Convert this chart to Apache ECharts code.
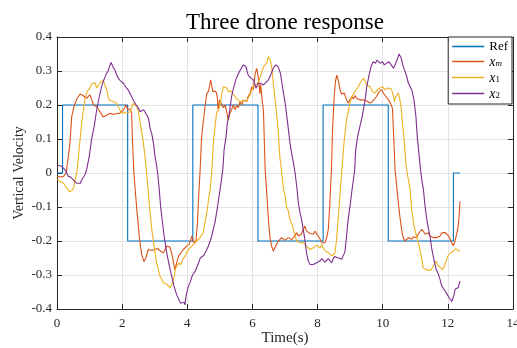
<!DOCTYPE html>
<html>
<head>
<meta charset="utf-8">
<script src="https://cdn.jsdelivr.net/npm/echarts@6/dist/echarts.min.js"></script>
<style>
  html, body { margin: 0; padding: 0; background: #fff; }
  #chart { width: 517px; height: 348px; }
</style>
</head>
<body>
<div id="chart"></div>
<script>
// Reference step signal (time in s, vertical velocity)
const refT = [0, 0.17, 0.17, 2.17, 2.17, 4.17, 4.17, 6.17, 6.17, 8.17, 8.17, 10.17, 10.17, 12.17, 12.17, 12.37];
const refV = [0, 0, 0.2, 0.2, -0.2, -0.2, 0.2, 0.2, -0.2, -0.2, 0.2, 0.2, -0.2, -0.2, 0, 0];

// Leader drone x_m
const xmT = [0, 0.1, 0.2, 0.28, 0.35, 0.4, 0.45, 0.52, 0.62, 0.71, 0.8, 0.91, 1.01, 1.07, 1.12, 1.22, 1.32, 1.42, 1.52, 1.63, 1.73, 1.83, 1.93, 2.04, 2.12, 2.17, 2.24, 2.29, 2.32, 2.36, 2.41, 2.45, 2.5, 2.55, 2.6, 2.67, 2.73, 2.8, 2.86, 2.92, 3.0, 3.08, 3.16, 3.26, 3.32, 3.37, 3.47, 3.53, 3.57, 3.62, 3.67, 3.73, 3.78, 3.88, 3.98, 4.06, 4.14, 4.2, 4.27, 4.31, 4.36, 4.39, 4.44, 4.49, 4.55, 4.6, 4.65, 4.72, 4.78, 4.82, 4.88, 4.92, 4.95, 4.99, 5.11, 5.16, 5.21, 5.26, 5.31, 5.36, 5.41, 5.47, 5.52, 5.57, 5.62, 5.67, 5.72, 5.82, 5.87, 5.93, 5.98, 6.03, 6.08, 6.13, 6.18, 6.23, 6.25, 6.3, 6.34, 6.39, 6.44, 6.49, 6.54, 6.59, 6.64, 6.69, 6.74, 6.8, 6.85, 6.9, 6.95, 7.0, 7.05, 7.1, 7.15, 7.2, 7.26, 7.31, 7.36, 7.41, 7.44, 7.5, 7.56, 7.61, 7.66, 7.72, 7.77, 7.82, 7.87, 7.92, 7.97, 8.02, 8.08, 8.13, 8.18, 8.23, 8.28, 8.33, 8.37, 8.4, 8.43, 8.46, 8.51, 8.55, 8.59, 8.64, 8.69, 8.74, 8.82, 8.89, 8.94, 9.0, 9.05, 9.1, 9.15, 9.2, 9.25, 9.3, 9.41, 9.51, 9.61, 9.68, 9.74, 9.81, 9.89, 9.97, 10.02, 10.07, 10.12, 10.2, 10.26, 10.3, 10.33, 10.38, 10.43, 10.48, 10.53, 10.58, 10.63, 10.68, 10.74, 10.79, 10.84, 10.89, 10.94, 10.99, 11.04, 11.09, 11.15, 11.2, 11.25, 11.3, 11.35, 11.4, 11.45, 11.5, 11.55, 11.61, 11.66, 11.71, 11.76, 11.81, 11.86, 11.91, 11.96, 12.02, 12.07, 12.12, 12.17, 12.22, 12.27, 12.32, 12.35, 12.37];
const xmV = [-0.01, -0.012, -0.01, 0.0, 0.049, 0.09, 0.165, 0.195, 0.22, 0.232, 0.228, 0.22, 0.23, 0.215, 0.2, 0.195, 0.18, 0.165, 0.17, 0.176, 0.172, 0.175, 0.176, 0.186, 0.2, 0.186, 0.188, 0.178, 0.09, 0.0, -0.06, -0.107, -0.16, -0.205, -0.24, -0.26, -0.25, -0.225, -0.22, -0.228, -0.225, -0.222, -0.228, -0.235, -0.225, -0.215, -0.218, -0.24, -0.26, -0.285, -0.265, -0.245, -0.238, -0.225, -0.215, -0.21, -0.186, -0.205, -0.198, -0.15, -0.05, 0.0, 0.107, 0.15, 0.2, 0.234, 0.24, 0.274, 0.24, 0.235, 0.24, 0.225, 0.186, 0.215, 0.192, 0.2, 0.18, 0.156, 0.176, 0.186, 0.2, 0.186, 0.2, 0.192, 0.21, 0.2, 0.215, 0.21, 0.225, 0.235, 0.254, 0.245, 0.29, 0.308, 0.283, 0.233, 0.26, 0.255, 0.18, 0.01, -0.06, -0.137, -0.19, -0.215, -0.23, -0.22, -0.21, -0.2, -0.2, -0.19, -0.19, -0.198, -0.195, -0.19, -0.186, -0.196, -0.19, -0.186, -0.176, -0.185, -0.19, -0.18, -0.166, -0.156, -0.171, -0.17, -0.178, -0.176, -0.18, -0.171, -0.178, -0.186, -0.195, -0.205, -0.21, -0.205, -0.19, -0.166, -0.1, -0.04, 0.02, 0.127, 0.225, 0.27, 0.288, 0.27, 0.244, 0.232, 0.235, 0.215, 0.206, 0.21, 0.225, 0.218, 0.228, 0.22, 0.225, 0.215, 0.215, 0.212, 0.206, 0.21, 0.215, 0.225, 0.24, 0.245, 0.235, 0.228, 0.225, 0.213, 0.21, 0.19, 0.12, 0.01, -0.04, -0.088, -0.13, -0.166, -0.19, -0.2, -0.195, -0.19, -0.195, -0.195, -0.188, -0.186, -0.19, -0.18, -0.172, -0.166, -0.172, -0.18, -0.185, -0.176, -0.185, -0.18, -0.19, -0.186, -0.19, -0.195, -0.185, -0.176, -0.171, -0.175, -0.176, -0.185, -0.195, -0.205, -0.214, -0.2, -0.18, -0.155, -0.12, -0.083];

// Follower drone x_1
const x1T = [0, 0.1, 0.2, 0.3, 0.38, 0.43, 0.48, 0.52, 0.58, 0.62, 0.66, 0.71, 0.75, 0.79, 0.86, 0.93, 1.01, 1.06, 1.11, 1.17, 1.22, 1.27, 1.32, 1.37, 1.42, 1.47, 1.53, 1.58, 1.63, 1.73, 1.83, 1.88, 1.93, 1.98, 2.06, 2.14, 2.24, 2.34, 2.4, 2.45, 2.5, 2.55, 2.6, 2.65, 2.7, 2.75, 2.83, 2.91, 2.98, 3.06, 3.16, 3.27, 3.37, 3.42, 3.47, 3.52, 3.59, 3.64, 3.68, 3.75, 3.8, 3.86, 3.93, 4.0, 4.08, 4.17, 4.23, 4.29, 4.39, 4.44, 4.49, 4.54, 4.6, 4.65, 4.7, 4.75, 4.8, 4.85, 4.9, 4.95, 5.0, 5.05, 5.11, 5.16, 5.21, 5.26, 5.31, 5.36, 5.41, 5.47, 5.52, 5.57, 5.62, 5.67, 5.72, 5.77, 5.82, 5.87, 5.93, 5.98, 6.03, 6.08, 6.13, 6.18, 6.23, 6.28, 6.34, 6.39, 6.44, 6.49, 6.54, 6.59, 6.64, 6.69, 6.72, 6.79, 6.84, 6.9, 6.95, 7.0, 7.05, 7.1, 7.15, 7.21, 7.26, 7.31, 7.36, 7.41, 7.46, 7.51, 7.56, 7.61, 7.66, 7.72, 7.77, 7.82, 7.87, 7.92, 7.97, 8.02, 8.08, 8.13, 8.18, 8.23, 8.28, 8.33, 8.38, 8.43, 8.48, 8.51, 8.54, 8.59, 8.64, 8.69, 8.74, 8.78, 8.82, 8.89, 8.97, 9.05, 9.1, 9.15, 9.23, 9.3, 9.36, 9.41, 9.46, 9.51, 9.56, 9.61, 9.68, 9.76, 9.84, 9.92, 9.99, 10.07, 10.12, 10.17, 10.22, 10.27, 10.33, 10.36, 10.4, 10.45, 10.48, 10.52, 10.57, 10.6, 10.65, 10.71, 10.75, 10.79, 10.84, 10.89, 10.96, 11.04, 11.12, 11.19, 11.24, 11.3, 11.35, 11.4, 11.47, 11.55, 11.6, 11.63, 11.7, 11.78, 11.84, 11.91, 11.96, 12.02, 12.09, 12.17, 12.25, 12.32, 12.37];
const x1V = [-0.02, -0.025, -0.03, -0.045, -0.055, -0.057, -0.05, -0.04, -0.01, 0.01, 0.05, 0.1, 0.14, 0.17, 0.22, 0.24, 0.25, 0.262, 0.26, 0.265, 0.25, 0.258, 0.264, 0.268, 0.274, 0.258, 0.245, 0.22, 0.213, 0.21, 0.205, 0.196, 0.185, 0.176, 0.178, 0.176, 0.18, 0.205, 0.21, 0.195, 0.18, 0.15, 0.12, 0.09, 0.05, 0.0, -0.088, -0.166, -0.215, -0.264, -0.303, -0.323, -0.327, -0.332, -0.337, -0.33, -0.308, -0.28, -0.274, -0.264, -0.27, -0.254, -0.245, -0.23, -0.22, -0.212, -0.208, -0.2, -0.19, -0.19, -0.175, -0.147, -0.117, -0.08, -0.049, 0.0, 0.088, 0.135, 0.176, 0.185, 0.195, 0.23, 0.254, 0.258, 0.25, 0.24, 0.245, 0.24, 0.232, 0.225, 0.218, 0.215, 0.21, 0.21, 0.213, 0.215, 0.212, 0.22, 0.23, 0.245, 0.254, 0.258, 0.262, 0.268, 0.279, 0.295, 0.313, 0.318, 0.323, 0.342, 0.335, 0.313, 0.264, 0.22, 0.195, 0.127, 0.049, 0.0, -0.045, -0.065, -0.1, -0.11, -0.137, -0.15, -0.166, -0.186, -0.2, -0.2, -0.205, -0.2, -0.205, -0.21, -0.215, -0.22, -0.225, -0.222, -0.22, -0.225, -0.213, -0.215, -0.22, -0.21, -0.222, -0.228, -0.23, -0.235, -0.24, -0.243, -0.247, -0.24, -0.23, -0.19, -0.127, -0.059, 0.0, 0.05, 0.098, 0.156, 0.195, 0.225, 0.232, 0.24, 0.25, 0.264, 0.272, 0.279, 0.274, 0.259, 0.26, 0.254, 0.24, 0.235, 0.245, 0.25, 0.254, 0.245, 0.25, 0.25, 0.245, 0.247, 0.225, 0.21, 0.225, 0.23, 0.235, 0.22, 0.19, 0.15, 0.107, 0.03, 0.0, -0.02, -0.049, -0.107, -0.156, -0.186, -0.215, -0.249, -0.279, -0.28, -0.285, -0.283, -0.287, -0.274, -0.265, -0.259, -0.272, -0.279, -0.285, -0.269, -0.265, -0.24, -0.235, -0.23, -0.222, -0.23, -0.227];

// Follower drone x_2
const x2T = [0, 0.07, 0.14, 0.24, 0.3, 0.35, 0.42, 0.5, 0.6, 0.66, 0.72, 0.76, 0.86, 0.91, 0.99, 1.06, 1.14, 1.22, 1.3, 1.37, 1.44, 1.52, 1.57, 1.61, 1.66, 1.7, 1.73, 1.78, 1.83, 1.88, 1.95, 2.04, 2.12, 2.19, 2.26, 2.34, 2.43, 2.5, 2.55, 2.6, 2.66, 2.7, 2.76, 2.81, 2.86, 2.91, 2.96, 3.01, 3.06, 3.09, 3.14, 3.18, 3.24, 3.29, 3.37, 3.45, 3.52, 3.59, 3.67, 3.75, 3.8, 3.86, 3.9, 3.93, 3.96, 4.03, 4.1, 4.16, 4.24, 4.3, 4.34, 4.4, 4.44, 4.51, 4.55, 4.6, 4.65, 4.7, 4.75, 4.8, 4.85, 4.92, 4.98, 5.04, 5.09, 5.13, 5.19, 5.23, 5.29, 5.36, 5.43, 5.49, 5.57, 5.64, 5.72, 5.76, 5.8, 5.87, 5.95, 6.03, 6.08, 6.11, 6.18, 6.25, 6.34, 6.4, 6.49, 6.56, 6.64, 6.72, 6.76, 6.79, 6.86, 6.94, 7.02, 7.09, 7.15, 7.2, 7.25, 7.31, 7.36, 7.41, 7.46, 7.51, 7.56, 7.61, 7.66, 7.72, 7.77, 7.82, 7.87, 7.92, 7.97, 8.02, 8.07, 8.13, 8.18, 8.23, 8.28, 8.33, 8.38, 8.43, 8.47, 8.51, 8.56, 8.62, 8.68, 8.74, 8.79, 8.84, 8.89, 8.94, 9.0, 9.05, 9.1, 9.14, 9.17, 9.23, 9.3, 9.37, 9.46, 9.51, 9.58, 9.64, 9.71, 9.78, 9.82, 9.86, 9.92, 9.99, 10.05, 10.12, 10.19, 10.26, 10.33, 10.4, 10.45, 10.5, 10.56, 10.63, 10.71, 10.79, 10.89, 10.96, 11.02, 11.06, 11.12, 11.16, 11.2, 11.25, 11.3, 11.37, 11.45, 11.51, 11.58, 11.64, 11.71, 11.76, 11.81, 11.88, 11.94, 11.98, 12.04, 12.12, 12.15, 12.19, 12.22, 12.27, 12.32, 12.37];
const x2V = [0.022, 0.022, 0.02, 0.01, 0.0, -0.01, -0.012, -0.02, -0.03, -0.034, -0.03, -0.02, -0.005, 0.01, 0.049, 0.098, 0.137, 0.186, 0.225, 0.254, 0.274, 0.293, 0.3, 0.313, 0.325, 0.32, 0.31, 0.303, 0.289, 0.279, 0.271, 0.264, 0.252, 0.244, 0.23, 0.215, 0.2, 0.191, 0.18, 0.185, 0.186, 0.184, 0.17, 0.16, 0.13, 0.115, 0.088, 0.049, 0.02, 0.0, -0.049, -0.098, -0.147, -0.186, -0.235, -0.274, -0.303, -0.332, -0.357, -0.374, -0.383, -0.386, -0.38, -0.388, -0.362, -0.335, -0.318, -0.3, -0.29, -0.275, -0.266, -0.25, -0.245, -0.242, -0.24, -0.225, -0.215, -0.2, -0.186, -0.165, -0.145, -0.105, -0.065, -0.027, 0.01, 0.068, 0.107, 0.146, 0.176, 0.225, 0.254, 0.274, 0.293, 0.305, 0.318, 0.32, 0.313, 0.288, 0.279, 0.274, 0.26, 0.249, 0.264, 0.264, 0.259, 0.262, 0.274, 0.288, 0.308, 0.318, 0.32, 0.313, 0.293, 0.244, 0.195, 0.14, 0.09, 0.06, 0.035, 0.0, -0.039, -0.088, -0.117, -0.137, -0.166, -0.195, -0.235, -0.26, -0.269, -0.271, -0.269, -0.266, -0.264, -0.262, -0.259, -0.252, -0.256, -0.262, -0.259, -0.252, -0.256, -0.264, -0.264, -0.246, -0.25, -0.249, -0.254, -0.254, -0.249, -0.232, -0.186, -0.135, -0.095, -0.055, -0.02, 0.01, 0.068, 0.107, 0.137, 0.166, 0.215, 0.254, 0.288, 0.313, 0.327, 0.323, 0.332, 0.33, 0.323, 0.327, 0.318, 0.323, 0.327, 0.318, 0.308, 0.323, 0.335, 0.35, 0.34, 0.313, 0.293, 0.264, 0.245, 0.215, 0.166, 0.107, 0.049, 0.01, -0.02, -0.049, -0.098, -0.147, -0.186, -0.225, -0.259, -0.283, -0.298, -0.313, -0.332, -0.342, -0.344, -0.357, -0.367, -0.378, -0.37, -0.357, -0.342, -0.347, -0.337, -0.318];

const seriesNames = ['Ref', 'x_m', 'x_1', 'x_2'];
const seriesColors = ['#0072BD', '#D95319', '#EDB120', '#7E2F8E'];

const xTicks = { min: 0, max: 14, step: 2 };
const yTicks = { min: -0.4, max: 0.4, step: 0.1 };

const SERIF = '"Liberation Serif", "Times New Roman", serif';
const AXIS_COLOR = '#262626';

function pairs(ts, vs) { return ts.map((t, i) => [t, vs[i]]); }

const seriesData = [pairs(refT, refV), pairs(xmT, xmV), pairs(x1T, x1V), pairs(x2T, x2V)];

// Legend entries: plain name, or italic x with a subscript
function legendLabel(name) {
  if (name.indexOf('_') < 0) return '{rm|' + name + '}';
  const sub = name.split('_')[1];
  return '{it|x}' + (/^[0-9]+$/.test(sub) ? '{subN|' + sub + '}' : '{subI|' + sub + '}');
}

const baseX = {
  type: 'value', min: xTicks.min, max: xTicks.max, interval: xTicks.step,
  axisLine: { show: true, onZero: false, lineStyle: { color: AXIS_COLOR, width: 1 } },
  axisTick: { show: true, inside: true, length: 5, lineStyle: { color: AXIS_COLOR } },
  splitLine: { show: false }
};
const baseY = {
  type: 'value', min: yTicks.min, max: yTicks.max, interval: yTicks.step,
  axisLine: { show: true, onZero: false, lineStyle: { color: AXIS_COLOR, width: 1 } },
  axisTick: { show: true, inside: true, length: 5, lineStyle: { color: AXIS_COLOR } },
  splitLine: { show: false }
};

const chart = echarts.init(document.getElementById('chart'), null, { renderer: 'canvas' });
chart.setOption({
  animation: false,
  backgroundColor: '#ffffff',
  title: {
    text: 'Three drone response',
    left: 280, top: 6, textAlign: 'center',
    textStyle: { fontFamily: SERIF, fontSize: 23, fontWeight: 'normal', color: '#000' }
  },
  grid: { left: 57, right: 4, top: 37, bottom: 39, containLabel: false, outerBoundsMode: 'none' },
  legend: {
    data: seriesNames,
    orient: 'vertical',
    right: 5, top: 37,
    padding: [3, 4, 3, 4],
    itemGap: 2,
    itemWidth: 32, itemHeight: 1.5,
    icon: 'rect',
    backgroundColor: '#ffffff',
    borderColor: AXIS_COLOR, borderWidth: 1,
    formatter: legendLabel,
    textStyle: {
      fontFamily: SERIF, fontSize: 13, color: '#000',
      rich: {
        rm: { fontFamily: SERIF, fontSize: 13, lineHeight: 13, color: '#000' },
        it: { fontFamily: SERIF, fontStyle: 'italic', fontSize: 14, lineHeight: 13, verticalAlign: 'top', color: '#000' },
        subI: { fontFamily: SERIF, fontStyle: 'italic', fontSize: 9, lineHeight: 4, verticalAlign: 'bottom', color: '#000' },
        subN: { fontFamily: SERIF, fontSize: 9, lineHeight: 4, verticalAlign: 'bottom', color: '#000' }
      }
    }
  },
  xAxis: [
    Object.assign({}, baseX, {
      position: 'bottom',
      name: 'Time(s)', nameLocation: 'middle', nameGap: 22, nameMoveOverlap: false,
      nameTextStyle: { fontFamily: SERIF, fontSize: 15, color: AXIS_COLOR },
      axisLabel: { show: true, margin: 8, fontFamily: SERIF, fontSize: 13, color: AXIS_COLOR },
      splitLine: { show: true, lineStyle: { color: '#e3e3e3', width: 1 } }
    }),
    Object.assign({}, baseX, { position: 'top', axisLabel: { show: false } })
  ],
  yAxis: [
    Object.assign({}, baseY, {
      position: 'left',
      name: 'Vertical Velocity', nameLocation: 'middle', nameGap: 31, nameMoveOverlap: false,
      nameTextStyle: { fontFamily: SERIF, fontSize: 14, color: AXIS_COLOR },
      axisLabel: {
        show: true, margin: 5, fontFamily: SERIF, fontSize: 13, color: AXIS_COLOR,
        formatter: v => String(+v.toFixed(1))
      },
      splitLine: { show: true, lineStyle: { color: '#e3e3e3', width: 1 } }
    }),
    Object.assign({}, baseY, { position: 'right', axisLabel: { show: false } })
  ],
  series: seriesNames.map((name, i) => ({
    name: name,
    type: 'line',
    xAxisIndex: 0, yAxisIndex: 0,
    data: seriesData[i],
    showSymbol: false, symbol: 'none',
    lineStyle: { color: seriesColors[i], width: 1.1 },
    itemStyle: { color: seriesColors[i] },
    emphasis: { disabled: true }
  }))
});
</script>
</body>
</html>
